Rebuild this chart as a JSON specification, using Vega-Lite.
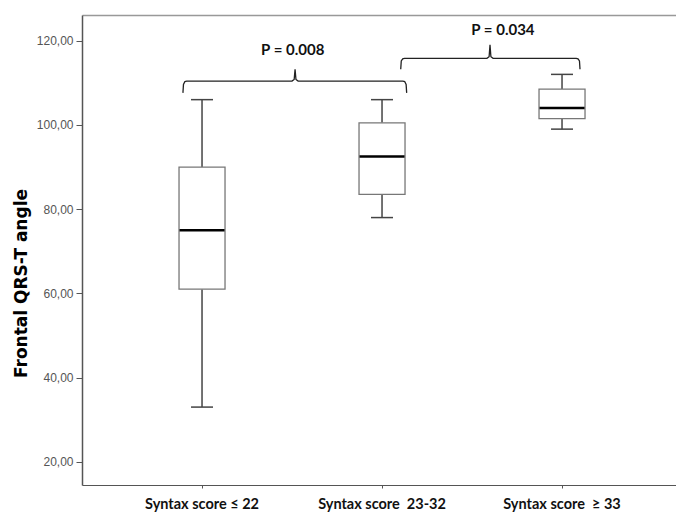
{
  "$schema": "https://vega.github.io/schema/vega-lite/v6.json",
  "width": 594,
  "height": 470,
  "autosize": {"type": "none"},
  "padding": {"left": 82, "top": 15, "right": 0, "bottom": 29},
  "background": "white",
  "config": {"view": {"stroke": null}},
  "datasets": {
    "boxes": [
      {"group": "Syntax score ≤ 22", "lower": 33, "q1": 61, "median": 75, "q3": 90, "upper": 106},
      {"group": "Syntax score\u00a0 23-32", "lower": 78, "q1": 83.5, "median": 92.5, "q3": 100.5, "upper": 106},
      {"group": "Syntax score\u00a0 ≥ 33", "lower": 99, "q1": 101.5, "median": 104, "q3": 108.5, "upper": 112}
    ],
    "brackets": [
      {"b": 1, "o": 0, "x": 0.894, "y": 107.6},
      {"b": 1, "o": 1, "x": 0.897, "y": 109.6},
      {"b": 1, "o": 2, "x": 0.905, "y": 110.3},
      {"b": 1, "o": 3, "x": 0.915, "y": 110.4},
      {"b": 1, "o": 4, "x": 1.500, "y": 110.4},
      {"b": 1, "o": 5, "x": 1.512, "y": 110.8},
      {"b": 1, "o": 6, "x": 1.517, "y": 113.2},
      {"b": 1, "o": 7, "x": 1.522, "y": 110.8},
      {"b": 1, "o": 8, "x": 1.534, "y": 110.4},
      {"b": 1, "o": 9, "x": 2.116, "y": 110.4},
      {"b": 1, "o": 10, "x": 2.126, "y": 110.3},
      {"b": 1, "o": 11, "x": 2.134, "y": 109.6},
      {"b": 1, "o": 12, "x": 2.137, "y": 107.6},
      {"b": 2, "o": 0, "x": 2.104, "y": 113.2},
      {"b": 2, "o": 1, "x": 2.107, "y": 115.2},
      {"b": 2, "o": 2, "x": 2.115, "y": 115.7},
      {"b": 2, "o": 3, "x": 2.125, "y": 115.8},
      {"b": 2, "o": 4, "x": 2.583, "y": 115.8},
      {"b": 2, "o": 5, "x": 2.595, "y": 116.2},
      {"b": 2, "o": 6, "x": 2.600, "y": 119.0},
      {"b": 2, "o": 7, "x": 2.605, "y": 116.2},
      {"b": 2, "o": 8, "x": 2.617, "y": 115.8},
      {"b": 2, "o": 9, "x": 3.079, "y": 115.8},
      {"b": 2, "o": 10, "x": 3.089, "y": 115.7},
      {"b": 2, "o": 11, "x": 3.097, "y": 115.2},
      {"b": 2, "o": 12, "x": 3.100, "y": 113.2}
    ],
    "labels": [
      {"x": 1.504, "y": 117.8, "text": "P = 0.008"},
      {"x": 2.672, "y": 122.5, "text": "P = 0.034"}
    ]
  },
  "layer": [
    {
      "data": {"name": "boxes"},
      "encoding": {
        "x": {
          "field": "group", "type": "nominal", "sort": null,
          "scale": {"paddingInner": 0, "paddingOuter": 0.15, "align": 0.556},
          "axis": {
            "title": null, "labelAngle": 0, "orient": "bottom",
            "labelFont": "Lato", "labelFontWeight": "bold", "labelFontSize": 14.5, "labelColor": "#111",
            "labelPadding": 9, "tickSize": 3, "tickColor": "#555", "domainColor": "#555", "domainWidth": 1.2
          }
        }
      },
      "layer": [
        {
          "mark": {"type": "rule", "color": "#444", "strokeWidth": 1.5},
          "encoding": {
            "y": {
              "field": "lower", "type": "quantitative",
              "scale": {"domain": [14.5, 126.1], "nice": false, "zero": false},
              "axis": {
                "title": "Frontal QRS-T angle",
                "values": [20, 40, 60, 80, 100, 120],
                "labelExpr": "replace(format(datum.value, '.2f'), '.', ',')",
                "grid": false,
                "labelFont": "Liberation Sans", "labelFontSize": 12, "labelColor": "#555",
                "labelPadding": 3, "tickSize": 6, "tickColor": "#555", "domainColor": "#555", "domainWidth": 1.5,
                "titleFont": "DejaVu Sans", "titleFontWeight": "bold", "titleFontSize": 17, "titleColor": "#000",
                "titleX": -56, "titleY": 268, "titleAngle": -90, "titleBaseline": "alphabetic", "titleAlign": "center"
              }
            },
            "y2": {"field": "q1"}
          }
        },
        {
          "mark": {"type": "rule", "color": "#444", "strokeWidth": 1.5},
          "encoding": {"y": {"field": "q3", "type": "quantitative"}, "y2": {"field": "upper"}}
        },
        {
          "mark": {"type": "tick", "color": "#444", "opacity": 1, "size": 22, "thickness": 1.5},
          "encoding": {"y": {"field": "lower", "type": "quantitative"}}
        },
        {
          "mark": {"type": "tick", "color": "#444", "opacity": 1, "size": 22, "thickness": 1.5},
          "encoding": {"y": {"field": "upper", "type": "quantitative"}}
        },
        {
          "mark": {"type": "bar", "size": 46, "fill": "white", "stroke": "#777", "strokeWidth": 1.3},
          "encoding": {"y": {"field": "q1", "type": "quantitative"}, "y2": {"field": "q3"}}
        },
        {
          "mark": {"type": "tick", "color": "#000", "opacity": 1, "size": 45, "thickness": 2.6},
          "encoding": {"y": {"field": "median", "type": "quantitative"}}
        }
      ]
    },
    {
      "encoding": {
        "x": {
          "type": "quantitative",
          "scale": {"domain": [0.3333, 3.6333], "nice": false, "zero": false},
          "axis": {"orient": "top", "title": null, "labels": false, "ticks": false, "grid": false, "domainColor": "#999", "domainWidth": 1.5}
        }
      },
      "layer": [
        {
          "data": {"name": "brackets"},
          "mark": {"type": "line", "color": "#222", "strokeWidth": 1.3},
          "encoding": {
            "x": {"field": "x", "type": "quantitative"},
            "y": {"field": "y", "type": "quantitative"},
            "detail": {"field": "b"},
            "order": {"field": "o"}
          }
        },
        {
          "data": {"name": "labels"},
          "mark": {"type": "text", "font": "Lato", "fontWeight": "bold", "fontSize": 15, "color": "#111", "baseline": "middle", "align": "center"},
          "encoding": {
            "x": {"field": "x", "type": "quantitative"},
            "y": {"field": "y", "type": "quantitative"},
            "text": {"field": "text"}
          }
        }
      ]
    }
  ],
  "resolve": {"scale": {"x": "independent"}, "axis": {"x": "independent"}}
}
